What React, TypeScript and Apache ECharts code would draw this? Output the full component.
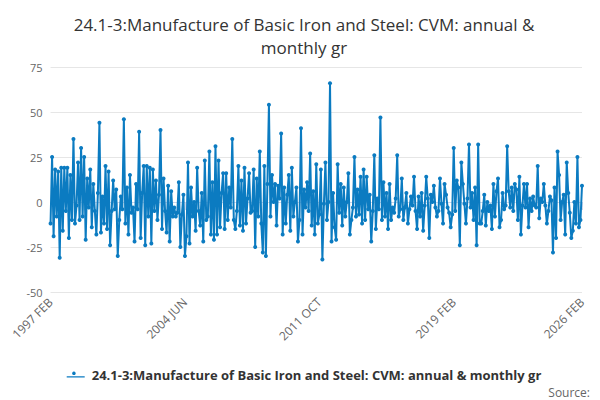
import React, { useRef, useEffect } from 'react';
import * as echarts from 'echarts';

const MONTHS = ['JAN', 'FEB', 'MAR', 'APR', 'MAY', 'JUN', 'JUL', 'AUG', 'SEP', 'OCT', 'NOV', 'DEC'];

const values: number[] = [
  -12, 25, -19, 18, -8, 17, -31, 19, -16, 19, -5, 19,
  -20, 15, -10, 35, -12, -2, 22, -10, 30, -8, 25, -21,
  13, -3, 18, -14, 10, -5, -18, 5, 44, -17, 3, -12,
  20, -15, 17, -24, -5, 12, -4, 7, -30, -10, 3, -4,
  46, -12, 8, -18, 15, -6, -3, -22, 10, -4, 39, -20,
  5, 20, -24, 20, -8, 19, -23, 18, -5, 12, -10, 4,
  40, -15, 13, -5, -17, 9, -22, 6, -8, -3, -8, -6,
  11, -25, -7, 4, -30, -19, 22, -23, 8, -8, 0, -16,
  19, -5, -13, 5, -22, 23, -10, -8, 28, -18, 11, -21,
  31, -18, 23, -14, 5, 16, -15, 16, -10, 8, -3, 35,
  -10, -15, -5, 20, -13, 12, -16, 19, -12, 2, 16, -6,
  -5, 18, -25, 13, -8, 28, -12, -28, 20, -30, 10, 54,
  -8, 15, 0, 10, -13, 9, 2, 38, -18, 8, -12, 4,
  15, -16, 19, -8, 0, 8, -22, -10, 41, -18, 7, -3,
  11, -5, 27, -13, 6, -18, 21, -12, -7, 18, -32, -1,
  22, -10, 0, 66, -22, 5, -14, -21, 21, -6, 10, -13,
  8, -8, 0, 16, -18, -10, -3, 25, -8, 7, -7, 14,
  -12, 18, -10, 14, -4, 4, -22, -5, 26, -15, 2, -4,
  47, -10, 11, -8, 5, -15, 10, -10, -3, -6, 2, 26,
  -8, -4, 13, -10, -3, 5, -12, -4, 3, -2, 14, -5,
  -15, 3, -8, 5, -16, -2, 14, 2, -20, 4, 0, 9,
  -3, -8, -5, 13, -1, -12, 10, 4, -3, -6, -14, -7,
  30, -5, 12, 8, -24, 22, 10, -1, -12, 2, 32, -3,
  5, -10, 8, -24, 32, -12, -12, -5, 4, -13, 0, -5,
  -2, -15, 10, -8, 6, 13, -14, -10, 5, -4, -2, 31,
  6, -3, 8, -5, 10, 7, -10, 14, -18, -2, 10, -3,
  10, -14, 2, -5, 3, -2, -3, 20, -9, 2, 0, 10,
  -2, -12, -5, 3, 1, -28, 8, -20, 28, 15, -10, 0,
  4, -18, 22, 5, -6, -20, -16, 0, -12, 25, -14, -10,
  9,
];

// monthly categories starting 1997 FEB
const categories: string[] = values.map((_, i) => {
  const m = 1 + i;
  return `${1997 + Math.floor(m / 12)} ${MONTHS[m % 12]}`;
});

const yTicks = [-50, -25, 0, 25, 50, 75];
const seriesName = '24.1-3:Manufacture of Basic Iron and Steel: CVM: annual & monthly gr';

export default function App() {
  const chartRef = useRef<HTMLDivElement>(null);

  useEffect(() => {
    if (!chartRef.current) return;
    const chart = echarts.init(chartRef.current, undefined, { renderer: 'svg' });
    const last = categories.length - 1;

    chart.setOption({
      animation: false,
      title: {
        text: '24.1-3:Manufacture of Basic Iron and Steel: CVM: annual &\nmonthly gr',
        left: 'center',
        top: 0,
        textStyle: { fontFamily: 'Open Sans', fontSize: 17, fontWeight: 'normal', color: '#333', lineHeight: 23 },
      },
      grid: { left: 34, right: 18, top: 59, bottom: 108 },
      legend: {
        bottom: 14,
        left: 'center',
        icon: 'path://M0,4 L30,4 L30,6 L0,6 Z M12,2 A3,3 0 1 1 12.01,2 Z',
        itemWidth: 22,
        itemHeight: 6,
        textStyle: { fontFamily: 'Open Sans', fontSize: 13, fontWeight: 'bold', color: '#333' },
        data: [seriesName],
      },
      graphic: [{
        type: 'text', right: 10, bottom: 2,
        style: { text: 'Source:', fontFamily: 'Open Sans', fontSize: 12, fill: '#666' },
      }],
      xAxis: {
        type: 'category',
        data: categories,
        boundaryGap: false,
        axisLine: { lineStyle: { color: '#ccd6eb' } },
        axisTick: {
          lineStyle: { color: '#ccd6eb' },
          length: 8,
          interval: (i: number) => i % 22 === 0 || i === last,
        },
        axisLabel: {
          rotate: 45,
          color: '#666',
          fontFamily: 'Open Sans',
          fontSize: 12,
          interval: (i: number) => i % 88 === 0 || i === last,
        },
      },
      yAxis: {
        type: 'value',
        min: yTicks[0],
        max: yTicks[yTicks.length - 1],
        interval: 25,
        axisLabel: { color: '#666', fontFamily: 'Open Sans', fontSize: 11 },
        splitLine: { lineStyle: { color: '#e6e6e6' } },
      },
      series: [{
        name: seriesName,
        type: 'line',
        data: values,
        symbol: 'circle',
        symbolSize: 4,
        showAllSymbol: true,
        lineStyle: { color: '#0b7bc1', width: 2 },
        itemStyle: { color: '#0b7bc1' },
      }],
    });

    return () => chart.dispose();
  }, []);

  return <div ref={chartRef} style={{ width: 592, height: 392 }} />;
}
